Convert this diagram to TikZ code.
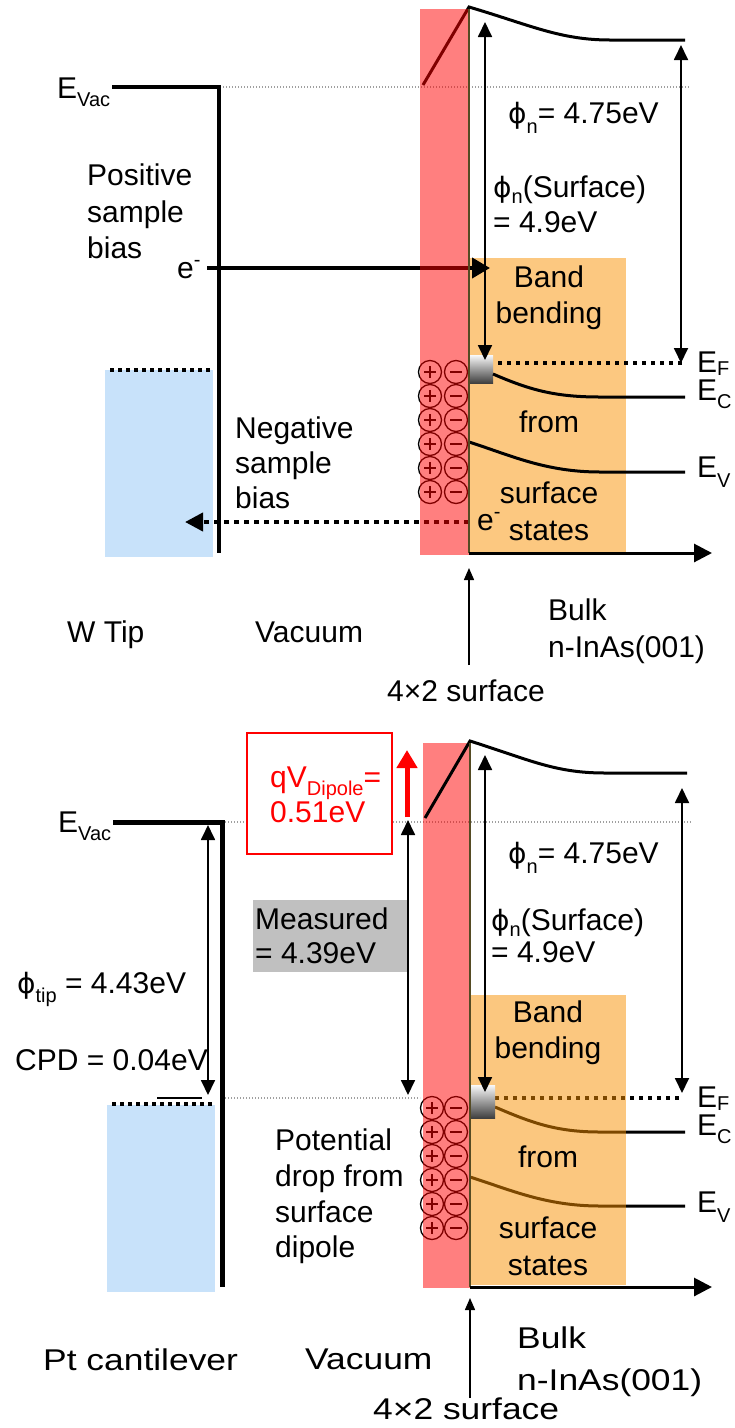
\documentclass[tikz,border=0pt]{standalone}
\usepackage{fontspec}
\setmainfont{Liberation Sans}
\newfontfamily\phifont{DejaVu Sans}
\usetikzlibrary{arrows.meta}
\newcommand\fsA{\fontsize{30}{36}\selectfont}
\newcommand\fsS{\fontsize{20}{22}\selectfont}
\newcommand\lowr[2]{\raisebox{-#1}{\fsS #2}}
\newcommand\uppr[2]{\raisebox{#1}{\fsS #2}}
\newcommand\wide[1]{\scalebox{1.18}[1]{#1}}
\newcommand\phis{{\phifont\fontsize{28}{36}\selectfont ϕ}}
\definecolor{tipblue}{RGB}{200,226,250}
\definecolor{bandorange}{RGB}{252,200,128}
\definecolor{deeporange}{RGB}{249,145,1}
\definecolor{olivetwo}{RGB}{85,75,35}
\definecolor{measgray}{RGB}{192,192,192}
\begin{document}
\begin{tikzpicture}[x=1pt,y=-1pt,
  lab/.style={inner sep=0pt, anchor=base west, font=\fsA},
  labc/.style={inner sep=0pt, anchor=base, font=\fsA},
  vacdot/.style={gray!75, line width=1.2pt, dash pattern=on 1.2pt off 1.8pt},
  tipdot/.style={line width=3.5pt, dash pattern=on 3.5pt off 4.5pt},
  efdot/.style={line width=4pt, dash pattern=on 4pt off 5pt},
  dbl/.style={line width=1.8pt, {Triangle[length=15pt,width=14pt]}-{Triangle[length=15pt,width=14pt]}},
  thick e/.style={line width=4pt, -{Triangle[length=18pt,width=20pt]}},
  axisarr/.style={line width=3pt, -{Triangle[length=18pt,width=18pt]}},
  uparr/.style={line width=1.5pt, -{Triangle[length=12pt,width=10pt]}},
  band/.style={line width=3pt},
  chg/.style={line width=1.3pt},
]
\useasboundingbox (0,0) rectangle (735,1428);
\fill[white] (0,0) rectangle (735,1428);

% ================= TOP PANEL =================
\fill[tipblue] (105,370) rectangle (213,557);
\draw[tipdot] (110,370) -- (213,370);
\draw[vacdot] (220,87) -- (690,87);
\fill[bandorange] (469,258) rectangle (626,553);
\draw[line width=4.5pt] (112,87) -- (219,87) -- (219,553);
\coordinate (eas) at (207,268);
\coordinate (eae) at (490,268);
\draw[thick e] (eas) -- (eae);
\coordinate (nbs) at (469,522);
\coordinate (nbe) at (185,522);
\draw[line width=4pt, dash pattern=on 5pt off 5pt, -{Triangle[length=18pt,width=18pt]}] (nbs) -- (nbe);
\draw[band] (423,85) -- (469,7) .. controls (530,25) and (560,40) .. (610,40) -- (685,40);
\foreach \yy in {372,396,420,444,468,492}{
  \draw[chg] (430,\yy) circle[radius=11.5];
  \draw[chg] (424,\yy) -- (436,\yy) (430,\yy-6) -- (430,\yy+6);
  \draw[chg] (456,\yy) circle[radius=11.5];
  \draw[chg] (450,\yy) -- (462,\yy);
}
\draw[efdot] (480,363) -- (682,363);
\shade[top color=gray!5, bottom color=black!75] (469,355) rectangle (493,383);
\draw[band] (493,374) .. controls (530,390) and (555,397) .. (600,397) -- (685,397);
\draw[band] (469,442) .. controls (510,455) and (545,472) .. (600,472) -- (685,472);
\coordinate (a1t) at (485,22);
\coordinate (a1b) at (485,360);
\draw[dbl] (a1t) -- (a1b);
\coordinate (a2t) at (681,45);
\coordinate (a2b) at (681,363);
\draw[dbl] (a2t) -- (a2b);
\fill[red, fill opacity=0.5] (420,9) rectangle (469,555);
\draw[olivetwo, line width=2.5pt] (469,9) -- (469,553);
\coordinate (ax1s) at (469,553);
\coordinate (ax1e) at (712,553);
\draw[axisarr] (ax1s) -- (ax1e);
\coordinate (up1s) at (469,665);
\coordinate (up1e) at (469,568);
\draw[uparr] (up1s) -- (up1e);

\node[lab] (evacA) at (57,98) {E\lowr{8pt}{Vac}};
\node[lab] (posA) at (87,185) {Positive};
\node[lab] (posB) at (87,222) {sample};
\node[lab] (posC) at (87,258) {bias};
\node[lab] (emA) at (177,278) {e\uppr{12pt}{-}};
\node[lab] (negA) at (235,438) {Negative};
\node[lab] (negB) at (235,473) {sample};
\node[lab] (negC) at (235,508) {bias};
\node[lab] (phiA) at (508,123) {\phis\lowr{10pt}{n}= 4.75eV};
\node[lab] (phisA) at (493,197) {\phis\lowr{6pt}{n}(Surface)};
\node[lab] (phisB) at (493,232) {= 4.9eV};
\node[labc] (bbA) at (549,287) {Band};
\node[labc] (bbB) at (549,323) {bending};
\node[labc] (bbC) at (549,432) {from};
\node[labc] (bbD) at (549,503) {surface};
\node[labc] (bbE) at (549,540) {states};
\node[lab] (emB) at (477,530) {e\uppr{12pt}{-}};
\node[lab] (efA) at (697,372) {E\lowr{3pt}{F}};
\node[lab] (ecA) at (697,400) {E\lowr{8pt}{C}};
\node[lab] (evA) at (697,477) {E\lowr{10pt}{V}};
\node[lab] (wtip) at (67,642) {W Tip};
\node[lab] (vacA) at (255,642) {Vacuum};
\node[lab] (bulkA) at (548,620) {Bulk};
\node[lab] (inasA) at (548,657) {n-InAs(001)};
\node[lab] (surfA) at (387,701) {4×2 surface};

% ================= BOTTOM PANEL =================
\fill[tipblue] (107,1105) rectangle (215,1292);
\draw[tipdot] (112,1104) -- (215,1104);
\draw[vacdot] (222,822) -- (692,822);
\draw[vacdot] (222,1098) -- (420,1098);
\draw[line width=1.5pt] (157,1098) -- (202,1098);
\draw[line width=5pt] (113,822) -- (222,822) -- (222,1287);
\coordinate (tipt) at (208,825);
\coordinate (tipb) at (208,1095);
\draw[dbl] (tipt) -- (tipb);
\draw[red, line width=1.5pt, fill=white] (247,733) rectangle (392,854);
\coordinate (rats) at (407,817);
\coordinate (rate) at (407,750);
\draw[red, line width=5pt, -{Triangle[length=18pt,width=20pt]}] (rats) -- (rate);
\fill[measgray] (253,900) rectangle (407,972);
\coordinate (mt) at (408,820);
\coordinate (mb) at (408,1095);
\draw[dbl] (mt) -- (mb);
\foreach \yy in {1108,1132,1156,1180,1204,1228}{
  \draw[chg] (432,\yy) circle[radius=11.5];
  \draw[chg] (426,\yy) -- (438,\yy) (432,\yy-6) -- (432,\yy+6);
  \draw[chg] (456,\yy) circle[radius=11.5];
  \draw[chg] (450,\yy) -- (462,\yy);
}
\draw[band] (495,1107) .. controls (532,1123) and (557,1132) .. (600,1132) -- (685,1132);
\draw[band] (470,1177) .. controls (511,1190) and (546,1206) .. (600,1206) -- (685,1206);
\draw[efdot] (495,1098) -- (683,1098);
\fill[deeporange, fill opacity=0.5] (470,995) rectangle (626,1285);
\shade[top color=gray!5, bottom color=black!75] (470,1085) rectangle (495,1118);
\fill[red, fill opacity=0.5] (423,743) rectangle (470,1288);
\draw[band] (425,818) -- (470,741) .. controls (530,760) and (555,773) .. (605,773) -- (687,773);
\draw[olivetwo, line width=2.5pt] (470,743) -- (470,1287);
\coordinate (b1t) at (485,755);
\coordinate (b1b) at (485,1092);
\draw[dbl] (b1t) -- (b1b);
\coordinate (b2t) at (682,788);
\coordinate (b2b) at (682,1093);
\draw[dbl] (b2t) -- (b2b);
\coordinate (ax2s) at (470,1287);
\coordinate (ax2e) at (712,1287);
\draw[axisarr] (ax2s) -- (ax2e);
\coordinate (up2s) at (470,1398);
\coordinate (up2e) at (470,1298);
\draw[uparr] (up2s) -- (up2e);

\node[lab] (evacB) at (58,832) {E\lowr{8pt}{Vac}};
\node[lab, text=red] (dipA) at (270,787) {qV\lowr{8pt}{Dipole}=};
\node[lab, text=red] (dipB) at (270,822) {0.51eV};
\node[lab] (measA) at (255,929) {Measured};
\node[lab] (measB) at (255,963) {= 4.39eV};
\node[lab] (phitip) at (17,993) {\phis\lowr{9pt}{tip} = 4.43eV};
\node[lab] (cpd) at (15,1070) {CPD = 0.04eV};
\node[lab] (phiB) at (508,863) {\phis\lowr{10pt}{n}= 4.75eV};
\node[lab] (phisC) at (491,930) {\phis\lowr{6pt}{n}(Surface)};
\node[lab] (phisD) at (491,962) {= 4.9eV};
\node[labc] (bbF) at (548,1022) {Band};
\node[labc] (bbG) at (548,1058) {bending};
\node[labc] (bbH) at (548,1167) {from};
\node[labc] (bbI) at (548,1238) {surface};
\node[labc] (bbJ) at (548,1275) {states};
\node[lab] (efB) at (697,1107) {E\lowr{3pt}{F}};
\node[lab] (ecB) at (697,1135) {E\lowr{8pt}{C}};
\node[lab] (evB) at (697,1212) {E\lowr{10pt}{V}};
\node[lab] (potA) at (275,1150) {Potential};
\node[lab] (potB) at (275,1186) {drop from};
\node[lab] (potC) at (275,1222) {surface};
\node[lab] (potD) at (275,1257) {dipole};
\node[lab] (ptc) at (43,1370) {\wide{Pt cantilever}};
\node[lab] (vacB) at (305,1369) {\wide{Vacuum}};
\node[lab] (bulkB) at (517,1348) {\wide{Bulk}};
\node[lab] (inasB) at (517,1390) {\wide{n-InAs(001)}};
\node[lab] (surfB) at (373,1419) {\wide{4×2 surface}};
\end{tikzpicture}
\end{document}
